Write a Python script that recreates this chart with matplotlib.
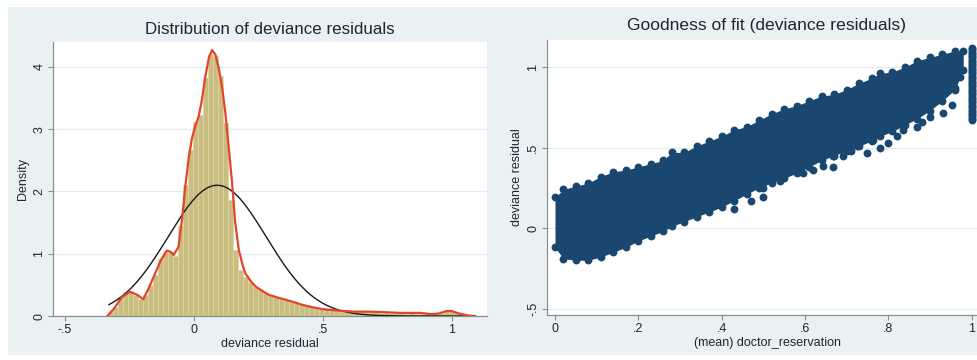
import numpy as np
import matplotlib
matplotlib.use('Agg')
import matplotlib.pyplot as plt
from matplotlib.patches import Rectangle

plt.rcParams['font.family'] = ['Liberation Sans', 'DejaVu Sans']

# histogram of deviance residuals (density per bin)
bin_start = -0.335
bin_width = 0.0195
hist_density = [0.06, 0.15, 0.30, 0.38, 0.40, 0.34, 0.28, 0.33, 0.50, 0.66,
                0.92, 1.02, 1.02, 0.97, 1.45, 2.10, 2.66, 3.12, 3.22, 3.82,
                4.20, 4.18, 3.85, 3.10, 1.86, 1.06, 0.74, 0.63, 0.54, 0.47,
                0.42, 0.37, 0.34, 0.31, 0.28, 0.26, 0.24, 0.21, 0.19, 0.17,
                0.15, 0.13, 0.12, 0.11, 0.10, 0.09, 0.08, 0.07,
                0.06, 0.06, 0.07, 0.06, 0.06, 0.06, 0.05, 0.06, 0.05, 0.05,
                0.05, 0.04, 0.05, 0.04, 0.04, 0.04, 0.03, 0.04, 0.05, 0.08,
                0.08, 0.05, 0.03, 0.01, 0.005]

# kernel density estimate (red line)
kde_x = [-0.336, -0.31, -0.28, -0.249, -0.22, -0.197, -0.175, -0.151, -0.128,
         -0.105, -0.09, -0.079, -0.06, -0.045, -0.034, -0.02, -0.008, 0.005,
         0.018, 0.03, 0.044, 0.058, 0.07, 0.083, 0.096, 0.11, 0.122, 0.135,
         0.148, 0.16, 0.174, 0.19, 0.2, 0.22, 0.24, 0.27, 0.29, 0.33, 0.357,
         0.39, 0.42, 0.46, 0.5, 0.55, 0.617, 0.68, 0.747, 0.8, 0.878, 0.92,
         0.95, 0.98, 1.0, 1.02, 1.05, 1.07, 1.09]
kde_y = [0.0, 0.12, 0.3, 0.39, 0.34, 0.27, 0.45, 0.68, 0.9,
         1.05, 1.03, 0.98, 1.11, 1.6, 2.07, 2.55, 2.85, 3.05,
         3.2, 3.45, 3.84, 4.15, 4.27, 4.2, 3.98, 3.65, 3.25, 2.7,
         2.13, 1.5, 1.06, 0.8, 0.68, 0.56, 0.47, 0.39, 0.34, 0.29, 0.26,
         0.22, 0.18, 0.14, 0.11, 0.09, 0.07, 0.07, 0.06, 0.05, 0.05, 0.03,
         0.04, 0.08, 0.08, 0.05, 0.02, 0.005, 0.0]

# normal overlay parameters
resid_mean = 0.09
resid_sd = 0.19
resid_min = -0.33
resid_max = 1.09

# goodness of fit scatter: dense band envelope
band_x = [0.0, 0.02, 0.05, 0.08, 0.11, 0.14, 0.17, 0.2, 0.23, 0.26, 0.28,
          0.31, 0.34, 0.37, 0.4, 0.43, 0.46, 0.49, 0.52, 0.55, 0.58, 0.61,
          0.64, 0.67, 0.7, 0.73, 0.76, 0.78, 0.81, 0.84, 0.87, 0.9, 0.93,
          0.96, 0.98]
band_hi = [0.19, 0.24, 0.26, 0.28, 0.32, 0.35, 0.36, 0.38, 0.4, 0.42, 0.47,
           0.47, 0.51, 0.54, 0.57, 0.61, 0.63, 0.67, 0.71, 0.74, 0.76, 0.79,
           0.82, 0.83, 0.86, 0.9, 0.93, 0.96, 0.97, 1.0, 1.04, 1.06, 1.08,
           1.1, 1.1]
band_lo = [-0.12, -0.19, -0.2, -0.2, -0.18, -0.15, -0.12, -0.08, -0.05, -0.02,
           0.01, 0.04, 0.07, 0.1, 0.13, 0.17, 0.21, 0.25, 0.28, 0.31, 0.34,
           0.38, 0.42, 0.45, 0.48, 0.51, 0.54, 0.57, 0.6, 0.64, 0.68, 0.73,
           0.79, 0.86, 0.98]

# sparse lower branch points
branch_x = [0.5, 0.5, 0.5, 0.5, 0.54, 0.596, 0.644, 0.668, 0.668, 0.668,
            0.692, 0.724, 0.748, 0.764, 0.8, 0.836, 0.868, 0.9, 0.932,
            0.952, 0.96, 0.972, 0.62, 0.71, 0.78, 0.82, 0.88, 0.43, 0.47]
branch_y = [0.19, 0.25, 0.31, 0.37, 0.29, 0.34, 0.383, 0.38, 0.45, 0.53,
            0.445, 0.507, 0.466, 0.55, 0.53, 0.61, 0.63, 0.69, 0.714,
            0.766, 0.87, 0.94, 0.36, 0.48, 0.5, 0.57, 0.66, 0.12, 0.17]

# observations at doctor_reservation == 1
ones_y = [0.67, 0.68, 0.69, 0.70, 0.71, 0.72, 0.73, 0.74, 0.75, 0.76, 0.77,
          0.78, 0.79, 0.80, 0.81, 0.82, 0.83, 0.84, 0.85, 0.86, 0.87, 0.88,
          0.89, 0.90, 0.91, 0.92, 0.93, 0.94, 0.95, 0.96, 0.97, 0.98, 0.99,
          1.00, 1.01, 1.02, 1.03, 1.04, 1.05, 1.06, 1.07, 1.08, 1.09, 1.10,
          1.11, 1.12]
ones_x = [1.0] * len(ones_y)

bg = '#E9F1F3'
grid_c = '#E2EBEE'
txt = '#1F2533'
navy = '#1A476F'

fig = plt.figure(figsize=(9.78, 3.6), dpi=100, facecolor='white')
fig.patches.append(Rectangle((8 / 978, 1 - 355 / 360), 970 / 978, 348 / 360,
                             transform=fig.transFigure, facecolor=bg,
                             edgecolor='none', zorder=-10))


def style_axes(ax):
    ax.set_facecolor('white')
    for s in ['top', 'right']:
        ax.spines[s].set_visible(False)
    for s in ['left', 'bottom']:
        ax.spines[s].set_color('#8A8F94')
        ax.spines[s].set_linewidth(0.9)
    ax.tick_params(direction='out', length=3.5, width=0.8, color='#8A8F94',
                   labelsize=9, labelcolor=txt, pad=2)
    ax.yaxis.grid(True, color=grid_c, linewidth=0.9)
    ax.set_axisbelow(True)
    for lab in ax.get_yticklabels():
        lab.set_rotation(90)
        lab.set_va('center')


# left panel: histogram
ax1 = fig.add_axes([53 / 978, 1 - 316 / 360, 434 / 978, 274 / 360])
edges = bin_start + bin_width * np.arange(len(hist_density) + 1)
ax1.bar(edges[:-1], hist_density, width=bin_width, align='edge',
        color='#C9BE80', edgecolor='#DDD5A8', linewidth=0.5, zorder=2)
ax1.plot(kde_x, kde_y, color='#E4452A', linewidth=1.6, zorder=4)
xn = np.linspace(resid_min, resid_max, 300)
yn = np.exp(-0.5 * ((xn - resid_mean) / resid_sd) ** 2) / (resid_sd * np.sqrt(2 * np.pi))
ax1.plot(xn, yn, color='#1A1A1A', linewidth=1.0, zorder=3)
ax1.set_xlim(-0.547, 1.137)
ax1.set_ylim(0, 4.4)
ax1.set_xticks([-0.5, 0, 0.5, 1])
ax1.set_xticklabels(['-.5', '0', '.5', '1'])
ax1.set_yticks([0, 1, 2, 3, 4])
ax1.set_yticklabels(['0', '1', '2', '3', '4'])
style_axes(ax1)
ax1.set_xlabel('deviance residual', fontsize=9, color=txt, labelpad=2)
ax1.set_ylabel('Density', fontsize=9, color=txt, labelpad=3)
ax1.set_title('Distribution of deviance residuals', fontsize=12.2, color=txt, pad=6)

# right panel: scatter
ax2 = fig.add_axes([547 / 978, 1 - 315 / 360, 440 / 978, 275 / 360])
ax2.fill_between(band_x, band_lo, band_hi, color=navy, linewidth=0, zorder=2)
for xs, ys in [(band_x, band_hi), (band_x, band_lo), (branch_x, branch_y),
               (ones_x, ones_y)]:
    ax2.scatter(xs, ys, s=32, color=navy, linewidths=0, zorder=3)
ax2.set_xlim(-0.0192, 1.037)
ax2.set_ylim(-0.54, 1.168)
ax2.set_xticks([0, 0.2, 0.4, 0.6, 0.8, 1])
ax2.set_xticklabels(['0', '.2', '.4', '.6', '.8', '1'])
ax2.set_yticks([-0.5, 0, 0.5, 1])
ax2.set_yticklabels(['-.5', '0', '.5', '1'])
style_axes(ax2)
ax2.set_xlabel('(mean) doctor_reservation', fontsize=9, color=txt, labelpad=2)
ax2.set_ylabel('deviance residual', fontsize=9, color=txt, labelpad=3)
ax2.set_title('Goodness of fit (deviance residuals)', fontsize=12.6, color=txt, pad=7)

fig.savefig('out.png', dpi=100, facecolor='white')
